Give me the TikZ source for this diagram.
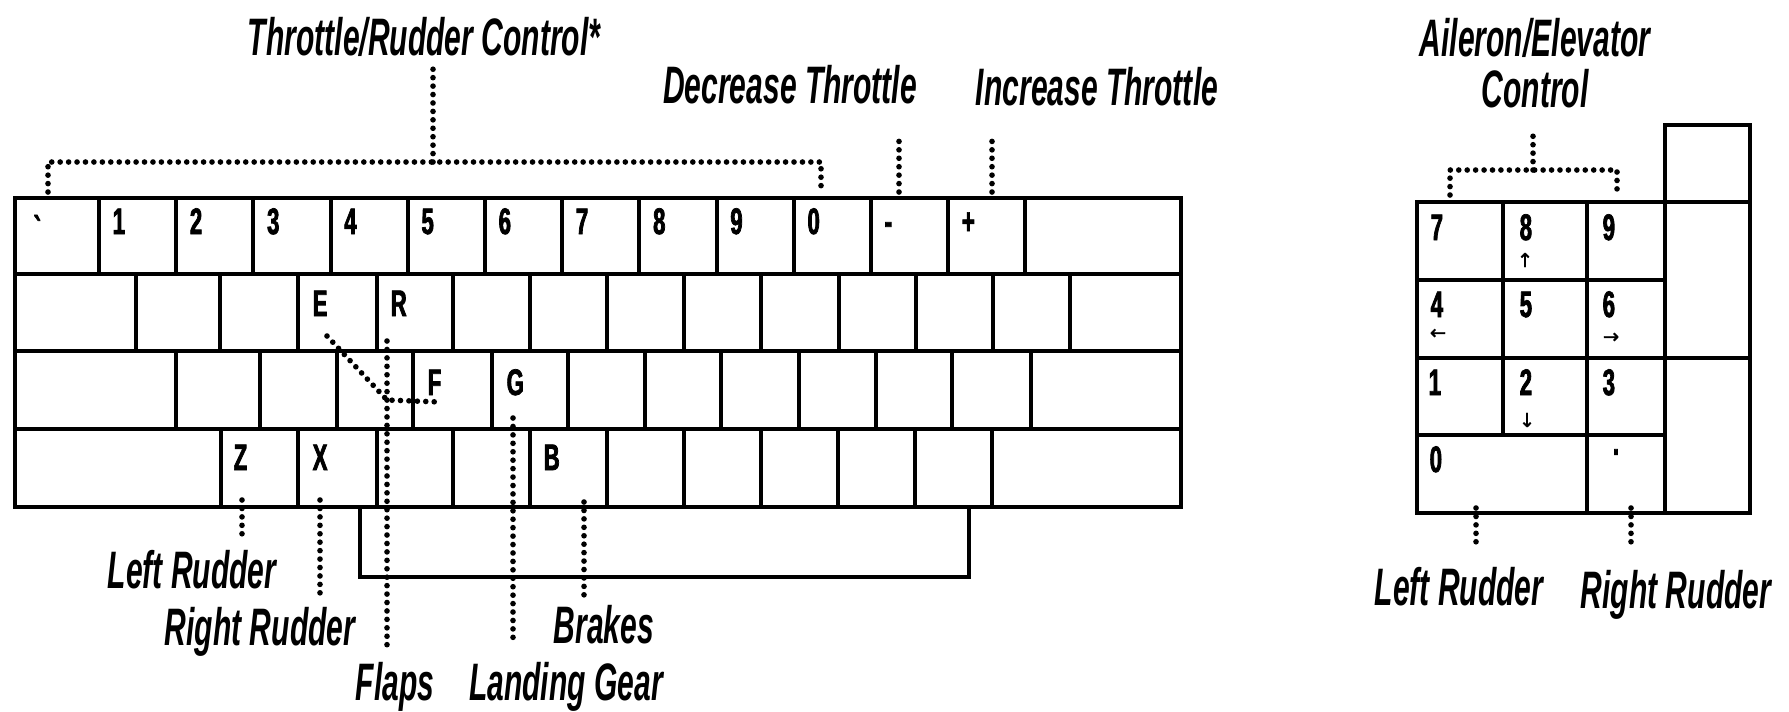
\documentclass[tikz,border=0pt]{standalone}
\usepackage{fontspec}
\newfontfamily\lblfont[FakeStretch=0.57]{Liberation Sans}
\newfontfamily\keyfont[FakeStretch=0.6, FakeBold=2]{Liberation Sans}
\newfontfamily\arrowfont[FakeBold=1.5]{DejaVu Sans}

\tikzset{
  keyline/.style={line width=1.4pt},
  leader/.style={line width=1.6pt, line cap=round, dash pattern=on 0pt off 2.4pt},
  lbl/.style={font=\lblfont\fontsize{15}{14.5}\selectfont\bfseries\itshape, inner sep=0pt},
  keytag/.style={font=\keyfont\fontsize{10.5}{12}\selectfont\bfseries, inner sep=0pt, anchor=base west},
  arrowtag/.style={font=\arrowfont\fontsize{5.5}{6}\selectfont, inner sep=0pt}
}

\begin{document}
\begin{tikzpicture}[x=0.1mm, y=-0.1mm]
\useasboundingbox (0,0) rectangle (1789,711);

% main keyboard
\draw[keyline] (15,198) rectangle (1181,507);
\foreach \y in {274,351,429}
  \draw[keyline] (15,\y) -- (1181,\y);
\foreach \x in {99,176,253,331,408,485,562,639,717,794,871,948,1025}
  \draw[keyline] (\x,198) -- (\x,274);
\foreach \x in {136,220,298,377,453,530,607,684,761,839,916,993,1070}
  \draw[keyline] (\x,274) -- (\x,351);
\foreach \x in {176,260,337,413,492,568,645,721,799,876,952,1031}
  \draw[keyline] (\x,351) -- (\x,429);
\foreach \x in {221,298,377,453,530,607,684,761,838,915,992}
  \draw[keyline] (\x,429) -- (\x,507);
\draw[keyline] (360,507) -- (360,577) -- (969,577) -- (969,507);

\node[keytag] (kt0) at (33,242) {\textasciigrave};
\foreach \t [count=\i] in {1,2,3,4,5,6,7,8,9,0,-,+}
  \node[keytag] (kt\i) at ({34.8+\i*77.2},234) {\t};
\node[keytag] (kte) at (312,316) {E};
\node[keytag] (ktr) at (390,316) {R};
\node[keytag] (ktf) at (427,395) {F};
\node[keytag] (ktg) at (506,395) {G};
\node[keytag] (ktz) at (233,470) {Z};
\node[keytag] (ktx) at (312,470) {X};
\node[keytag] (ktb) at (543,470) {B};

% keypad
\draw[keyline] (1417,202) rectangle (1750,513);
\draw[keyline] (1665,125) rectangle (1750,202);
\draw[keyline] (1503,202) -- (1503,435);
\draw[keyline] (1587,202) -- (1587,513);
\draw[keyline] (1665,202) -- (1665,513);
\draw[keyline] (1417,280) -- (1665,280);
\draw[keyline] (1417,358) -- (1750,358);
\draw[keyline] (1417,435) -- (1665,435);

\foreach \t/\x/\y in {7/1430/240, 8/1519/240, 9/1602/240,
                      4/1430/317, 5/1519/317, 6/1602/317,
                      1/1428/395, 2/1519/395, 3/1602/395, 0/1429/472}
  \node[keytag] (kp\t) at (\x,\y) {\t};
\node[keytag, anchor=center] (kpdot) at (1616,452) {.};
\node[arrowtag] (kpup) at (1525,260) {↑};
\node[arrowtag] (kpleft) at (1438,334) {←};
\node[arrowtag] (kpright) at (1611,338) {→};
\node[arrowtag] (kpdown) at (1527,420) {↓};

% labels
\node[lbl, anchor=base] (thr) at (424,55) {Throttle/Rudder Control*};
\node[lbl, anchor=base] (dec) at (790,103) {Decrease Throttle};
\node[lbl, anchor=base] (inc) at (1097,105) {Increase Throttle};
\node[lbl, anchor=north, align=center] (ail) at (1535,18) {Aileron/Elevator\\Control};
\node[lbl, anchor=base] (lrud) at (192,588) {Left Rudder};
\node[lbl, anchor=base] (rrud) at (260,645) {Right Rudder};
\node[lbl, anchor=base] (flaps) at (395,700) {Flaps};
\node[lbl, anchor=base] (gear) at (566,700) {Landing Gear};
\node[lbl, anchor=base] (brk) at (604,643) {Brakes};
\node[lbl, anchor=base] (plrud) at (1459,605) {Left Rudder};
\node[lbl, anchor=base] (prrud) at (1676,608) {Right Rudder};

% leaders
\coordinate (cgrave) at (48,192);
\coordinate (czero) at (821,192);
\coordinate (thrmid) at (433,162);
\draw[leader] (cgrave) |- (thrmid) -| (czero);
\draw[leader, shorten >=0.8mm] (thrmid) -- (thrmid |- thr.south);
\coordinate (cminus) at (899,192);
\draw[leader, shorten >=3mm] (cminus) -- (cminus |- dec.south);
\coordinate (cplus) at (992,192);
\draw[leader, shorten >=2.8mm] (cplus) -- (cplus |- inc.south);

\coordinate (ce) at (327,336);
\coordinate (cr) at (387,341);
\coordinate (cf) at (440,402);
\coordinate (cflap) at (387,400);
\draw[leader] (ce) -- (cflap) -- (cf);
\draw[leader, shorten >=1.1mm] (cr) -- (cr |- flaps.north);
\coordinate (cz) at (242,500);
\draw[leader, shorten >=1mm] (cz) -- (cz |- lrud.north);
\coordinate (cx) at (320,500);
\draw[leader, shorten >=1mm] (cx) -- (cx |- rrud.north);
\coordinate (cg) at (513,418);
\draw[leader, shorten >=1.8mm] (cg) -- (cg |- gear.north);
\coordinate (cb) at (584,502);
\draw[leader, shorten >=0.6mm] (cb) -- (cb |- brk.north);

\coordinate (cp7) at (1450,195);
\coordinate (cp9) at (1617,195);
\coordinate (ailmid) at (1533,170);
\draw[leader] (cp7) |- (ailmid) -| (cp9);
\draw[leader, shorten >=2.7mm] (ailmid) -- (ailmid |- ail.south);
\coordinate (cp0) at (1476,508);
\draw[leader, shorten >=1.8mm] (cp0) -- (cp0 |- plrud.north);
\coordinate (cpdot) at (1631,508);
\draw[leader, shorten >=2.1mm] (cpdot) -- (cpdot |- prrud.north);
\end{tikzpicture}
\end{document}
